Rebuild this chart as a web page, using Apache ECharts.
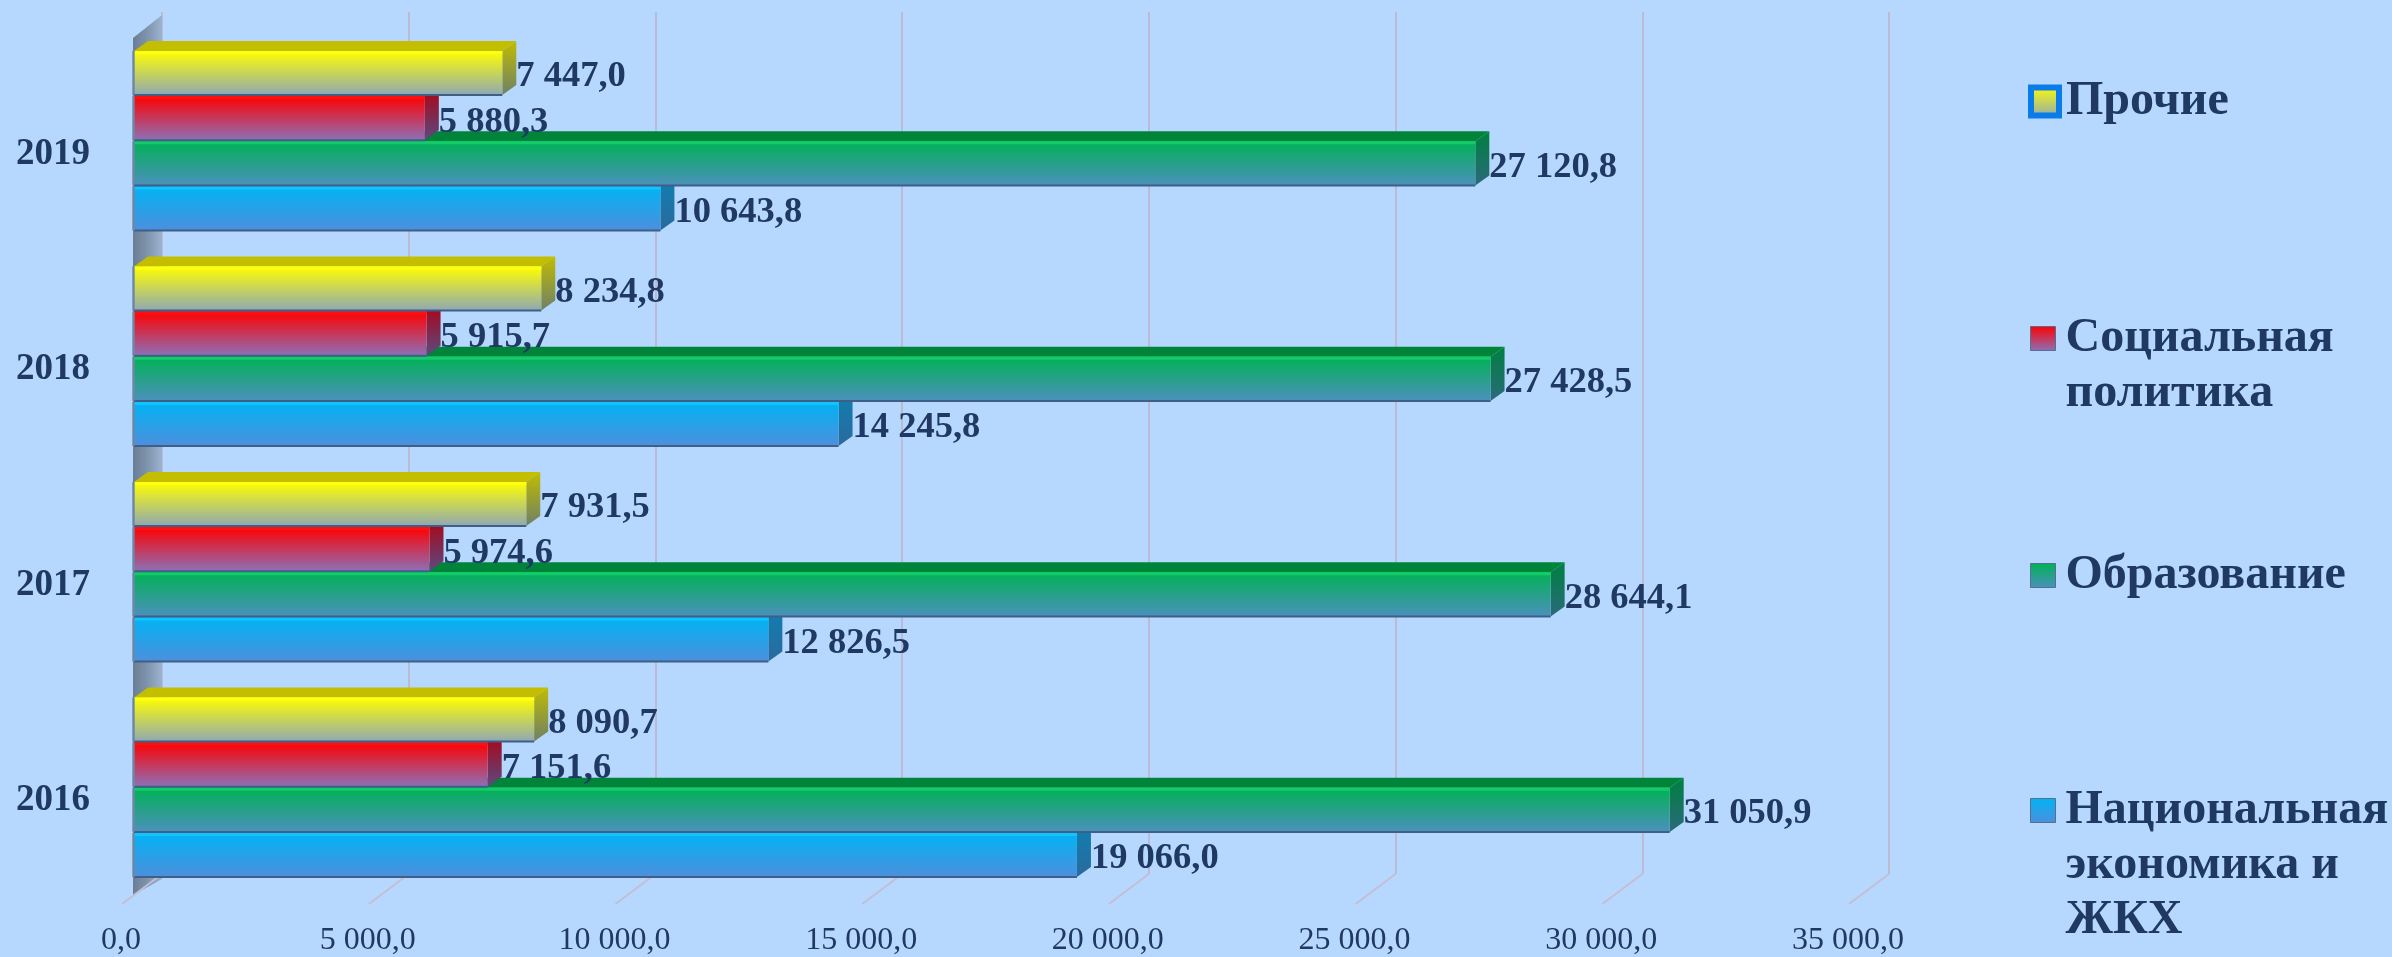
<!DOCTYPE html>
<html><head><meta charset="utf-8">
<style>html,body{margin:0;padding:0;background:#B7D8FE}#c{width:2392px;height:957px}</style>
<script src="https://cdn.jsdelivr.net/npm/echarts@6/dist/echarts.min.js"></script>
</head><body><div id="c"></div>
<script>
const categories = ['2016','2017','2018','2019'];
const nationalEconomy = [19066.0, 12826.5, 14245.8, 10643.8];
const education = [31050.9, 28644.1, 27428.5, 27120.8];
const socialPolicy = [7151.6, 5974.6, 5915.7, 5880.3];
const others = [8090.7, 7931.5, 8234.8, 7447.0];
const xTicks = [0, 5000, 10000, 15000, 20000, 25000, 30000, 35000];
const seriesNames = ['Национальная экономика и ЖКХ','Образование','Социальная политика','Прочие'];

const TEXT = '#1F3864', FONT = '"Liberation Serif","Times New Roman",serif';
const fmt = v => { const [a,b] = v.toFixed(1).split('.');
  return a.replace(/\B(?=(\d{3})+$)/g,' ') + ',' + b; };
const lin = (a,b) => ({type:'linear',x:0,y:0,x2:0,y2:1,colorStops:[{offset:0,color:a},{offset:1,color:b}]});

const palettes = [
 {top:'#00B4F5',bot:'#4D8FDC',cap:'#0086B8',side:'#0F7FB0',sideB:'#2A6A9E',hi:'#10C4FF'},
 {top:'#00B254',bot:'#4B90BC',cap:'#00843A',side:'#008040',sideB:'#2A6A7A',hi:'#12CC68'},
 {top:'#FF0000',bot:'#8C70B8',cap:'#B80000',side:'#B00010',sideB:'#5A4A80',hi:'#FF1010'},
 {top:'#FFFF00',bot:'#8FA8B4',cap:'#C4BE00',side:'#C0BC00',sideB:'#6E8068',hi:'#FFFF10'}
];
const DX = 14, DY = 10;
function barSeries(idx, values){
  const p = palettes[idx];
  return {
    type:'custom', name:seriesNames[idx], xAxisIndex:0, yAxisIndex:0, z:5, clip:false,
    encode:{x:0,y:1}, itemStyle:{color:lin(p.top,p.bot)},
    data: values.map((v,i)=>[v,i]),
    renderItem(params, api){
      const v = api.value(0), band = api.size([0,1])[1], h = band*0.2095;
      const c = api.coord([v, api.value(1)]), o = api.coord([0, api.value(1)]);
      const x0 = o[0], x1 = c[0], y = c[1] + (idx - 1.5)*-1*h - h/2 + 0.5, H = h - 1;
      const ch = [];
      ch.push({type:'polygon',shape:{points:[[x0,y],[x0+DX,y-DY],[x1+DX,y-DY],[x1,y]]},style:{fill:p.cap}});
      ch.push({type:'polygon',shape:{points:[[x1,y],[x1+DX,y-DY],[x1+DX,y+H-DY],[x1,y+H]]},style:{fill:lin(p.side,p.sideB)}});
      ch.push({type:'rect',shape:{x:x0,y:y,width:x1-x0,height:H},style:{fill:lin(p.top,p.bot)}});
      ch.push({type:'rect',shape:{x:x0,y:y,width:x1-x0,height:3},style:{fill:p.hi}});
      ch.push({type:'rect',shape:{x:x0,y:y+H-1,width:x1-x0,height:2},style:{fill:'#3F5F86'}});
      ch.push({type:'rect',shape:{x:x0-2,y:y,width:3,height:H},style:{fill:'#6F87A6',opacity:0.7}});
      ch.push({type:'text',z2:50,style:{x:x1+DX,y:y+H/2+4,text:fmt(v),fill:TEXT,
        font:'bold 36.5px '+FONT,textAlign:'left',textVerticalAlign:'middle'}});
      return {type:'group',children:ch};
    }
  };
}
const hiddenX = g => ({type:'value',gridIndex:g,min:0,max:35000,interval:5000,
  axisLine:{show:false},axisTick:{show:false},axisLabel:{show:false},splitLine:{show:false}});
const hiddenY = g => ({type:'category',gridIndex:g,data:categories,
  axisLine:{show:false},axisTick:{show:false},axisLabel:{show:false},splitLine:{show:false}});
const GW = 1727, GH = 862;
const legendItem = (idx,top,left,text,extra,size,gap) => ({
  show:true,left,top,padding:0,orient:'vertical',itemGap:0,itemWidth:size||25,itemHeight:size?size:24,icon:'rect',
  selectedMode:false,
  textStyle:{color:TEXT,fontFamily:FONT,fontWeight:'bold',fontSize:48,lineHeight:55,padding:[6,0,0,gap||5]},
  formatter:()=>text,
  data:[{name:seriesNames[idx],icon:'rect',itemStyle:Object.assign({color:lin(palettes[idx].top,palettes[idx].bot),borderWidth:1,borderColor:'#55708F'},extra||{})}]
});
const option = {
  backgroundColor:'#B7D8FE', animation:false,
  grid:[
    {left:134,top:33,width:GW+4,height:GH},
    {left:121,top:42,width:GW,height:GH},
    {left:162,top:12,width:GW,height:GH},
    {left:121,top:46.5,width:GW,height:GH}
  ],
  xAxis:[hiddenX(0),
    {type:'value',gridIndex:1,min:0,max:35000,interval:5000,axisLine:{show:false},axisTick:{show:false},splitLine:{show:false},
     axisLabel:{margin:21,color:TEXT,fontFamily:FONT,fontSize:32,formatter:v=>fmt(v),hideOverlap:false,showMinLabel:true,showMaxLabel:true}},
    {type:'value',gridIndex:2,min:0,max:35000,interval:5000,axisLine:{show:false},axisTick:{show:false},axisLabel:{show:false},
     splitLine:{show:true,lineStyle:{color:'#BDBAD4',width:2}}},
    hiddenX(3)],
  yAxis:[hiddenY(0),
    hiddenY(1),
    hiddenY(2),
    {type:'category',gridIndex:3,data:categories,axisLine:{show:false},axisTick:{show:false},splitLine:{show:false},
     axisLabel:{margin:31,color:TEXT,fontFamily:FONT,fontWeight:'bold',fontSize:37}}],
  legend:[
    legendItem(3,71,2028,'Прочие',{borderWidth:6,borderColor:'#0A7CEA'},28,2),
    legendItem(2,253,2030,'\nСоциальная\nполитика'),
    legendItem(1,545,2030,'Образование'),
    legendItem(0,670,2030,'\n\nНациональная\nэкономика и\nЖКХ')
  ],
  series:[
    {type:'custom',xAxisIndex:2,yAxisIndex:2,z:1,clip:false,silent:true,encode:{x:0},data:[[0,0]],
     renderItem(params){
       const s = params.coordSys, x=s.x, y=s.y, h=s.height;
       return {type:'polygon',shape:{points:[[x,y+3],[x,y+h+5],[x-29,y+h+21],[x-29,y+26]]},
         style:{fill:{type:'linear',x:0,y:0,x2:1,y2:0,colorStops:[{offset:0,color:'#6A7D94'},{offset:0.5,color:'#7F94AD'},{offset:1,color:'#9CB3CF'}]}}};
     }},
    {type:'custom',xAxisIndex:2,yAxisIndex:2,z:2,clip:false,silent:true,encode:{x:0},data:xTicks.map(t=>[t,0]),
     renderItem(params,api){
       const s = params.coordSys, px = api.coord([api.value(0),0])[0], py = s.y+s.height;
       return {type:'line',shape:{x1:px,y1:py,x2:px-40,y2:py+30},style:{stroke:'#C4BED2',lineWidth:2}};
     }},
    barSeries(0,nationalEconomy),
    barSeries(1,education),
    barSeries(2,socialPolicy),
    barSeries(3,others)
  ]
};
echarts.init(document.getElementById('c'),null,{renderer:'canvas'}).setOption(option);
</script></body></html>
